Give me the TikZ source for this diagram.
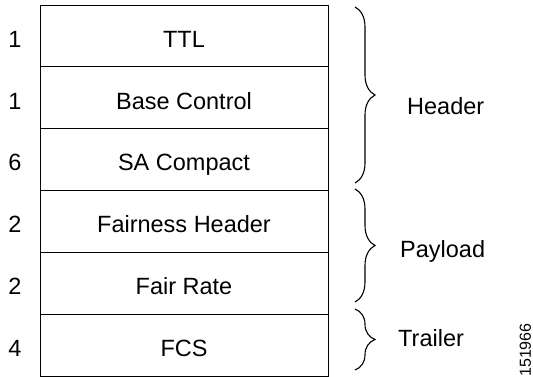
\documentclass[tikz,border=0pt]{standalone}
\usepackage{fontspec}
\setmainfont{Liberation Sans}
\usetikzlibrary{decorations.pathreplacing}
\tikzset{
  rowbox/.style={draw=black, line width=0.9pt, minimum width=288pt, minimum height=61.9pt,
    inner sep=0pt, text height=22.5pt, text depth=0pt, font=\fontsize{23.5}{27}\selectfont},
  numtext/.style={inner sep=0pt, text height=22.5pt, text depth=0pt, font=\fontsize{23.5}{27}\selectfont},
  grouptext/.style={inner sep=0pt, anchor=base west, font=\fontsize{23.5}{27}\selectfont},
  bracepath/.style={draw=black, line width=1.1pt, decorate,
    decoration={brace, amplitude=20pt, aspect=0.5}},
  idtext/.style={inner sep=0pt, rotate=90, text height=11.5pt, text depth=0pt,
    font=\fontsize{16}{19}\selectfont}
}
\begin{document}
\begin{tikzpicture}[x=1pt,y=-1pt]
\useasboundingbox (0,0) rectangle (533,377);
% rows
\node[rowbox] (r1) at (184,35.95) {TTL};
\node[rowbox] (r2) at (184,97.85) {Base Control};
\node[rowbox] (r3) at (184,159.75) {SA Compact};
\node[rowbox] (r4) at (184,221.65) {Fairness Header};
\node[rowbox] (r5) at (184,283.55) {Fair Rate};
\node[rowbox] (r6) at (184,345.45) {FCS};
% sizes
\node[numtext] (n1) at (15,35.95) {1};
\node[numtext] (n2) at (15,97.85) {1};
\node[numtext] (n3) at (15,159.75) {6};
\node[numtext] (n4) at (15,221.65) {2};
\node[numtext] (n5) at (15,283.55) {2};
\node[numtext] (n6) at (15,345.45) {4};
% braces
\coordinate (hT) at (355,7);
\coordinate (hB) at (355,183);
\coordinate (pT) at (355,189);
\coordinate (pB) at (355,302);
\coordinate (tT) at (355,309);
\coordinate (tB) at (355,370);
\draw[bracepath] (hT) -- (hB);
\draw[bracepath] (pT) -- (pB);
\draw[bracepath] (tT) -- (tB);
% labels
\node[grouptext] (lh) at (407,115) {Header};
\node[grouptext] (lp) at (400,257) {Payload};
\node[grouptext] (lt) at (398,346) {Trailer};
\node[idtext] (id) at (525,350) {151966};
\end{tikzpicture}
\end{document}
